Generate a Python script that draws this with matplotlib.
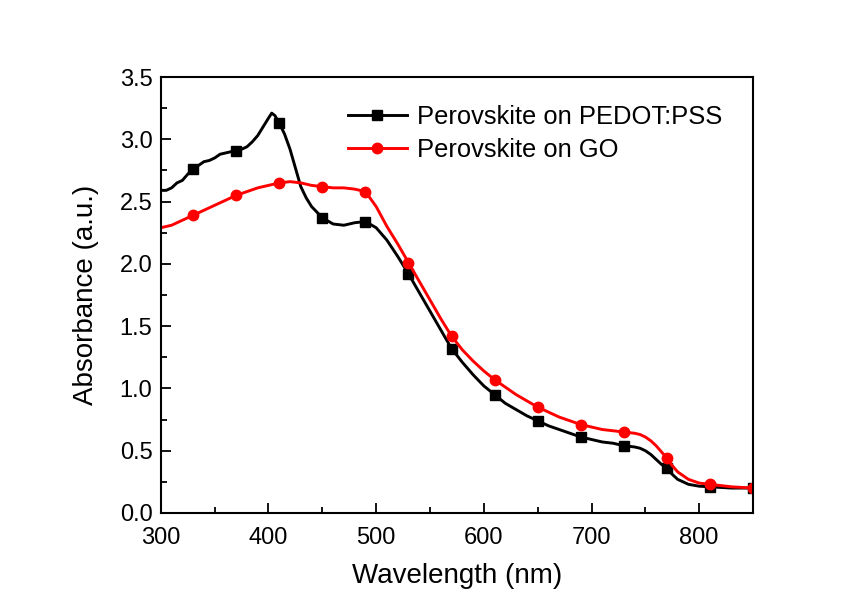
import matplotlib
matplotlib.use("Agg")
import matplotlib.pyplot as plt
from matplotlib.ticker import MultipleLocator, FormatStrFormatter

plt.rcParams['font.family'] = ['Liberation Sans', 'DejaVu Sans']

# Wavelength grid (nm) and absorbance values
wl_pedot = [300, 305, 310, 315, 320, 325, 330, 335, 340, 345, 350, 355, 360, 365, 370, 375,
            380, 385, 390, 395, 400, 403, 406, 410, 415, 420, 425, 430, 435, 440, 450, 460,
            470, 480, 490, 500, 510, 520, 530, 540, 550, 560, 570, 580, 590, 600, 610, 620,
            630, 640, 650, 660, 670, 680, 690, 700, 710, 720, 730, 740, 745, 750, 755, 760,
            765, 770, 775, 780, 790, 800, 810, 820, 830, 840, 850]
abs_pedot = [2.59, 2.59, 2.61, 2.65, 2.67, 2.72, 2.76, 2.79, 2.82, 2.83, 2.85, 2.88, 2.89, 2.90, 2.91, 2.92,
             2.94, 2.98, 3.03, 3.10, 3.17, 3.21, 3.19, 3.13, 3.04, 2.92, 2.77, 2.62, 2.53, 2.46, 2.37, 2.32,
             2.31, 2.33, 2.34, 2.29, 2.19, 2.06, 1.92, 1.77, 1.62, 1.47, 1.32, 1.21, 1.11, 1.02, 0.95, 0.88,
             0.83, 0.78, 0.74, 0.70, 0.67, 0.64, 0.61, 0.59, 0.57, 0.56, 0.54, 0.53, 0.52, 0.50, 0.47, 0.43,
             0.39, 0.36, 0.31, 0.27, 0.23, 0.215, 0.21, 0.205, 0.20, 0.20, 0.20]

wl_go = [300, 310, 320, 330, 340, 350, 360, 370, 380, 390, 400, 410, 420, 430, 440, 450, 460,
         470, 480, 490, 500, 510, 520, 530, 540, 550, 560, 570, 580, 590, 600, 610, 620, 630,
         640, 650, 660, 670, 680, 690, 700, 710, 720, 730, 740, 745, 750, 755, 760, 765, 770,
         775, 780, 790, 800, 810, 820, 830, 840, 850]
abs_go = [2.29, 2.31, 2.35, 2.39, 2.43, 2.47, 2.51, 2.55, 2.58, 2.61, 2.63, 2.65, 2.66, 2.65, 2.63, 2.62, 2.61,
          2.61, 2.60, 2.58, 2.46, 2.30, 2.16, 2.01, 1.86, 1.71, 1.56, 1.42, 1.31, 1.22, 1.14, 1.07, 1.01, 0.95,
          0.90, 0.85, 0.81, 0.77, 0.74, 0.71, 0.69, 0.67, 0.66, 0.65, 0.64, 0.63, 0.61, 0.58, 0.54, 0.49, 0.44,
          0.38, 0.33, 0.27, 0.24, 0.23, 0.22, 0.21, 0.205, 0.20]

marker_wl = [330, 370, 410, 450, 490, 530, 570, 610, 650, 690, 730, 770, 810, 850]

labels = ["Perovskite on PEDOT:PSS", "Perovskite on GO"]

fig = plt.figure(figsize=(8.6, 6.04), dpi=100)
ax = fig.add_axes([0.187, 0.1507, 0.6886, 0.7218])

me_pedot = [wl_pedot.index(w) for w in marker_wl]
me_go = [wl_go.index(w) for w in marker_wl]

ax.plot(wl_pedot, abs_pedot, color='black', lw=2.1, marker='s', ms=7, markevery=me_pedot,
        label=labels[0])
ax.plot(wl_go, abs_go, color='#ff0000', lw=2.1, marker='o', ms=7.5, markevery=me_go,
        label=labels[1])

ax.set_xlim(300, 850)
ax.set_ylim(0, 3.5)
ax.xaxis.set_major_locator(MultipleLocator(100))
ax.xaxis.set_minor_locator(MultipleLocator(50))
ax.yaxis.set_major_locator(MultipleLocator(0.5))
ax.yaxis.set_minor_locator(MultipleLocator(0.25))
ax.yaxis.set_major_formatter(FormatStrFormatter('%.1f'))
ax.tick_params(which='both', direction='in', top=False, right=False, labelsize=17, width=1.3)
ax.tick_params(which='major', length=7)
ax.tick_params(which='minor', length=4)
ax.tick_params(axis='x', which='major', pad=10)
ax.tick_params(axis='y', which='major', pad=6)
for s in ax.spines.values():
    s.set_linewidth(1.5)

ax.set_xlabel("Wavelength (nm)", fontsize=20, labelpad=10)
ax.set_ylabel("Absorbance (a.u.)", fontsize=20, labelpad=15)

ax.legend(loc='upper left', bbox_to_anchor=(0.299, 0.959), frameon=False, fontsize=18.4,
          handlelength=2.3, handletextpad=0.4, labelspacing=0.36, numpoints=1,
          borderaxespad=0)

fig.savefig("out.png", dpi=100)
